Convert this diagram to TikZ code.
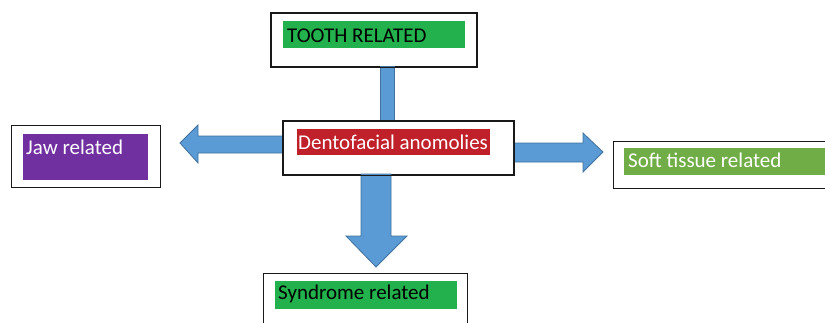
\documentclass[tikz,border=0pt]{standalone}
\usepackage{fontspec}
\setmainfont{Carlito}
\definecolor{arrfill}{HTML}{5B9BD5}
\definecolor{arrline}{HTML}{41719C}
\definecolor{tgreen}{HTML}{22B14C}
\definecolor{sgreen}{HTML}{70AD47}
\definecolor{jpurple}{HTML}{7030A0}
\definecolor{dred}{HTML}{C0202A}
\begin{document}
\begin{tikzpicture}[x=1pt,y=-1pt,
  box/.style={draw=black!90, line width=1.3pt, fill=white, inner sep=0pt, anchor=north west},
  lab/.style={inner sep=0pt, anchor=north west},
  txt/.style={inner sep=0pt, anchor=base west, font=\fontsize{21}{25}\selectfont},
  blockarrow/.style={fill=arrfill, draw=arrline, line width=0.8pt, line join=miter}]
\useasboundingbox (0,0) rectangle (825,322);
\clip (0,0) rectangle (825,322);
% boxes
\node[box, minimum width=205pt, minimum height=53pt] (tooth) at (271,13) {};
\node[box, minimum width=230pt, minimum height=53pt] (cen) at (283,121) {};
\node[box, minimum width=149pt, minimum height=62pt] (jaw) at (11,125) {};
\node[box, minimum width=230pt, minimum height=47pt] (soft) at (613,141) {};
\node[box, minimum width=204pt, minimum height=60pt] (syn) at (263,273) {};
% connectors (block arrows) drawn from box to box
\draw[blockarrow] (380,66) rectangle (394,121);
\draw[blockarrow] (cen.west |- 0,136) -- (198,136) -- (198,125) -- (180,143) -- (198,163) -- (198,153) -- (cen.west |- 0,153) -- cycle;
\draw[blockarrow] (cen.east |- 0,143) -- (583,143) -- (583,133) -- (603,152) -- (583,172) -- (583,162) -- (cen.east |- 0,162) -- cycle;
\draw[blockarrow] (361,174) -- (361,236) -- (346,236) -- (376,267) -- (407,236) -- (391,236) -- (391,174) -- cycle;
% redraw box borders over arrow ends
\draw[draw=black!90, line width=1.3pt] (tooth.north west) rectangle (tooth.south east);
\draw[draw=black!90, line width=1.3pt] (cen.north west) rectangle (cen.south east);
% coloured labels
\node[lab, fill=tgreen, minimum width=182pt, minimum height=27pt] (toothL) at (283,21) {};
\node[lab, fill=dred, minimum width=193pt, minimum height=26pt] (cenL) at (297,129) {};
\node[lab, fill=jpurple, minimum width=125pt, minimum height=46pt] (jawL) at (23,134) {};
\node[lab, fill=sgreen, minimum width=210pt, minimum height=27pt] (softL) at (624,148) {};
\node[lab, fill=tgreen, minimum width=182pt, minimum height=28pt] (synL) at (275,281) {};
% texts
\node[txt, text=black] (toothT) at (287,42) {TOOTH RELATED};
\node[txt, text=white] (cenT) at (298,149) {Dentofacial anomolies};
\node[txt, text=white] (jawT) at (26,154) {Jaw related};
\node[txt, text=white] (softT) at (628,167) {Soft tissue related};
\node[txt, text=black] (synT) at (278,299) {Syndrome related};
\end{tikzpicture}
\end{document}
